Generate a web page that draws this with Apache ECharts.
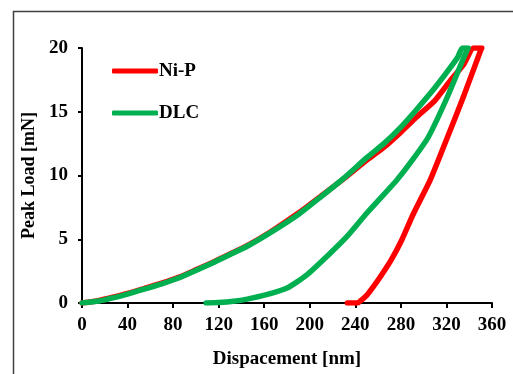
<!DOCTYPE html>
<html>
<head>
<meta charset="utf-8">
<script src="https://cdn.jsdelivr.net/npm/echarts@6/dist/echarts.min.js"></script>
<style>
html,body{margin:0;padding:0;background:#fff;}
#chart{width:513px;height:374px;}
</style>
</head>
<body>
<div id="chart"></div>
<script>
// Series names
const seriesNames = ['Ni-P', 'DLC'];
// Ni-P: displacement [nm] and load [mN] (loading then unloading)
const niP_disp = [0,15,27,40,57,70,86,100,115,130,145,165,190,210,230,250,265,280,294,310,323,335,344,351,350,345,335,320,306,291,280,271,263,256,250,245,242,233];
const niP_load = [0,0.2,0.45,0.75,1.2,1.55,2.05,2.6,3.2,3.85,4.5,5.55,7.05,8.4,9.75,11.2,12.2,13.4,14.6,15.9,17.4,18.7,20,20,19.8,18.6,16.2,12.8,9.7,7.0,4.8,3.3,2.2,1.3,0.6,0.2,0,0];
// DLC: displacement [nm] and load [mN]
const dlc_disp = [0,15,27,40,57,70,86,100,115,130,145,165,190,210,230,250,265,280,294,310,322,330,334,339,335,320,304,290,276.5,250,232.5,215,197.4,180,162,145,133,120,109];
const dlc_load = [0,0.15,0.4,0.7,1.15,1.5,2.0,2.55,3.15,3.8,4.45,5.5,6.95,8.35,9.8,11.4,12.5,13.8,15.2,16.9,18.3,19.3,20,20,19.2,16.0,13.0,11.2,9.65,7.04,5.2,3.65,2.2,1.17,0.65,0.3,0.13,0.03,0];
// Axis ranges
const xRange = {min: 0, max: 360, interval: 40};
const yRange = {min: 0, max: 20, interval: 5};

const zip = (a, b) => a.map((v, i) => [v, b[i]]);
const FONT = '"Liberation Serif", "Times New Roman", serif';

const chart = echarts.init(document.getElementById('chart'), null, {renderer: 'canvas'});
chart.setOption({
  animation: false,
  backgroundColor: '#fff',
  grid: {left: 82, right: 21, top: 48, bottom: 71, containLabel: false},
  graphic: [{
    type: 'rect', silent: true, z: -1,
    shape: {x: 13.5, y: 11.5, width: 700, height: 600},
    style: {fill: 'none', stroke: '#404040', lineWidth: 1.5}
  }],
  legend: [
    {data: [seriesNames[0]], left: 112, top: 61.5, padding: 0, icon: 'roundRect', itemWidth: 46, itemHeight: 5,
     textStyle: {fontFamily: FONT, fontWeight: 'bold', fontSize: 19, color: '#000', padding: [0,0,0,-4]}},
    {data: [seriesNames[1]], left: 112, top: 103.5, padding: 0, icon: 'roundRect', itemWidth: 46, itemHeight: 5,
     textStyle: {fontFamily: FONT, fontWeight: 'bold', fontSize: 19, color: '#000', padding: [0,0,0,-4]}}
  ],
  xAxis: {
    type: 'value', min: xRange.min, max: xRange.max, interval: xRange.interval,
    name: 'Dispacement [nm]', nameLocation: 'middle', nameGap: 47,
    nameTextStyle: {fontFamily: FONT, fontWeight: 'bold', fontSize: 19, color: '#000'},
    axisLine: {lineStyle: {color: '#000', width: 2}},
    axisTick: {show: true, inside: false, length: 5, lineStyle: {color: '#000', width: 2}},
    axisLabel: {fontFamily: FONT, fontWeight: 'bold', fontSize: 19, color: '#000', margin: 13},
    splitLine: {show: false}
  },
  yAxis: {
    type: 'value', min: yRange.min, max: yRange.max, interval: yRange.interval,
    name: 'Peak Load [mN]', nameLocation: 'middle', nameGap: 41,
    nameTextStyle: {fontFamily: FONT, fontWeight: 'bold', fontSize: 18, color: '#000'},
    axisLine: {show: true, lineStyle: {color: '#000', width: 2}},
    axisTick: {show: true, inside: false, length: 4, lineStyle: {color: '#000', width: 2}},
    axisLabel: {fontFamily: FONT, fontWeight: 'bold', fontSize: 19, color: '#000', margin: 14},
    splitLine: {show: false}
  },
  series: [
    {name: seriesNames[0], type: 'line', data: zip(niP_disp, niP_load), showSymbol: false, symbol: 'none', smooth: 0.2,
     color: '#FF0000', lineStyle: {color: '#FF0000', width: 5.5, cap: 'round', join: 'round'}, z: 2},
    {name: seriesNames[1], type: 'line', data: zip(dlc_disp, dlc_load), showSymbol: false, symbol: 'none', smooth: 0.2,
     color: '#00B050', lineStyle: {color: '#00B050', width: 5.5, cap: 'round', join: 'round'}, z: 3}
  ]
});
</script>
</body>
</html>
